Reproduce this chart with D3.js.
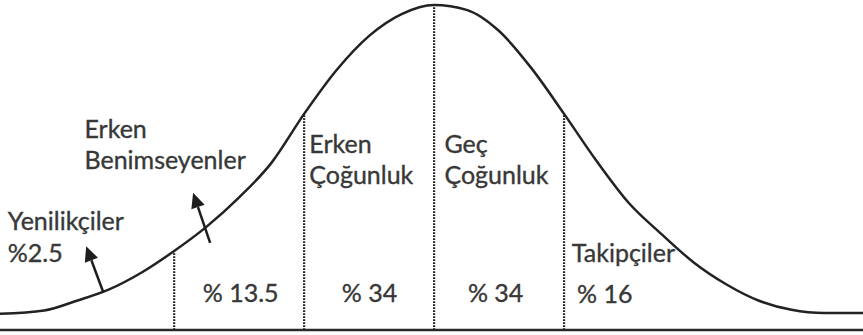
<!DOCTYPE html>
<html>
<head>
<meta charset="utf-8">
<script src="https://cdn.jsdelivr.net/npm/d3@7"></script>
<style>
  html, body { margin: 0; padding: 0; background: #fff; }
  svg { display: block; }
  .lbl { font-family: Lato, "Open Sans", sans-serif; font-size: 25px; fill: #383838; stroke: #383838; stroke-width: 0.35px; }
</style>
</head>
<body>
<div id="chart"></div>
<script>
// bell curve: position in standard deviations, relative height
const curveZ = [-3.34, -3.0, -2.75, -2.5, -2.25, -2, -1.75, -1.5, -1.25, -1, -0.75, -0.5, -0.25, 0,
                0.25, 0.5, 0.75, 1, 1.25, 1.5, 1.75, 2, 2.25, 2.5, 2.75, 3, 3.3];
const curveH = [0.05, 0.06, 0.09, 0.125, 0.177, 0.243, 0.318, 0.408, 0.515, 0.665, 0.80, 0.905, 0.972, 1.0,
                0.985, 0.92, 0.805, 0.665, 0.52, 0.39, 0.295, 0.207, 0.14, 0.09, 0.062, 0.052, 0.052];

// segment boundaries (dotted lines)
const dividers = [-2, -1, 0, 1];

// category names and shares
const groupNames = [["Yenilikçiler"], ["Erken", "Benimseyenler"], ["Erken", "Çoğunluk"], ["Geç", "Çoğunluk"], ["Takipçiler"]];
const groupShares = ["%2.5", "% 13.5", "% 34", "% 34", "% 16"];

const width = 863, height = 335;

const svg = d3.select("#chart").append("svg")
  .attr("width", width)
  .attr("height", height);

const x = d3.scaleLinear().domain([-3.34, 3.3]).range([0, width]);
const y = d3.scaleLinear().domain([0, 1]).range([330, 5]);

const pts = curveZ.map((z, i) => ({ z: z, h: curveH[i] }));
const heightAt = z => pts.find(p => p.z === z).h;

// baseline
svg.append("line")
  .attr("x1", x(-3.34)).attr("x2", x(3.3))
  .attr("y1", y(0)).attr("y2", y(0))
  .attr("stroke", "#2a2a2a")
  .attr("stroke-width", 2.5);

// dotted dividers
svg.selectAll(".div")
  .data(dividers)
  .enter().append("line")
  .attr("class", "div")
  .attr("x1", d => x(d)).attr("x2", d => x(d))
  .attr("y1", y(0)).attr("y2", d => y(heightAt(d)))
  .attr("stroke", "#222")
  .attr("stroke-width", 2.2)
  .attr("stroke-dasharray", "1.8,1.2");

// curve
const line = d3.line()
  .x(d => x(d.z))
  .y(d => y(d.h))
  .curve(d3.curveMonotoneX);

svg.append("path")
  .datum(pts)
  .attr("d", line)
  .attr("fill", "none")
  .attr("stroke", "#222")
  .attr("stroke-width", 2.5);

// label anchors (z, h) for name block and share
const nameAt = [[-3.28, 0.308], [-2.69, 0.592], [-0.96, 0.546], [0.08, 0.546], [1.06, 0.209]];
const shareAt = [[-3.28, 0.209], [-1.78, 0.086], [-0.71, 0.086], [0.26, 0.086], [1.1, 0.083]];
const lineGap = 31;

groupNames.forEach((lines, i) => {
  const t = svg.append("text")
    .attr("class", "lbl")
    .attr("x", x(nameAt[i][0]))
    .attr("y", y(nameAt[i][1]));
  lines.forEach((s, j) => {
    t.append("tspan")
      .attr("x", x(nameAt[i][0]))
      .attr("dy", j === 0 ? 0 : lineGap)
      .text(s);
  });
  svg.append("text")
    .attr("class", "lbl")
    .attr("x", x(shareAt[i][0]))
    .attr("y", y(shareAt[i][1]))
    .text(groupShares[i]);
});

// arrows from the curve up to the first two labels
const arrowFrom = [[-2.546, 0.117], [-1.723, 0.268]];
const arrowTo = [[-2.677, 0.258], [-1.854, 0.422]];

arrowFrom.forEach((a, i) => {
  const x0 = x(a[0]), y0 = y(a[1]);
  const x1 = x(arrowTo[i][0]), y1 = y(arrowTo[i][1]);
  const len = Math.hypot(x1 - x0, y1 - y0);
  const ux = (x1 - x0) / len, uy = (y1 - y0) / len;
  const headL = 15, headW = 7;
  const bx = x1 - ux * headL, by = y1 - uy * headL;
  svg.append("line")
    .attr("x1", x0).attr("y1", y0)
    .attr("x2", bx).attr("y2", by)
    .attr("stroke", "#1e1e1e")
    .attr("stroke-width", 2.5);
  svg.append("path")
    .attr("d", `M${x1},${y1}L${bx - uy * headW},${by + ux * headW}L${bx + uy * headW},${by - ux * headW}Z`)
    .attr("fill", "#1e1e1e");
});
</script>
</body>
</html>
